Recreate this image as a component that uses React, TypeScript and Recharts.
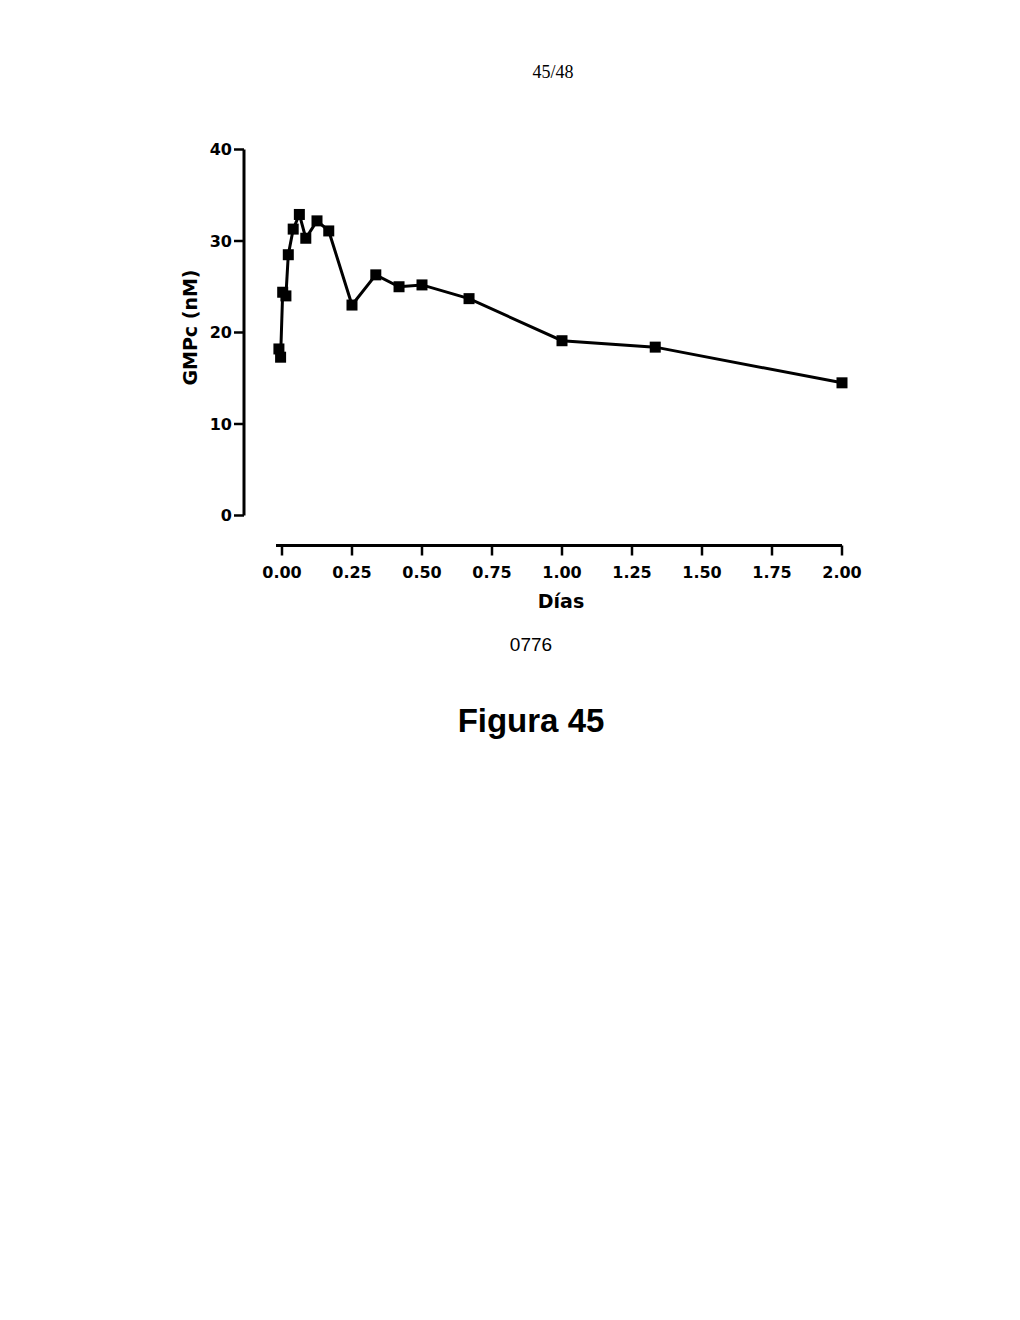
import { Label, Line, LineChart, ReferenceLine, XAxis, YAxis } from "recharts";

// Días después de la dosis y GMPc medido (nM)
const dias = [
  -0.011, -0.005, 0.0025, 0.014, 0.0225, 0.04, 0.062, 0.085, 0.125, 0.167, 0.25,
  0.335, 0.418, 0.5, 0.668, 1.0, 1.333, 2.0,
];
const gmpc = [
  18.2, 17.3, 24.4, 24.0, 28.5, 31.3, 32.9, 30.3, 32.2, 31.1, 23.0, 26.3, 25.0,
  25.2, 23.7, 19.1, 18.4, 14.5,
];
const xTicks = [0, 0.25, 0.5, 0.75, 1, 1.25, 1.5, 1.75, 2];
const yTicks = [0, 10, 20, 30, 40];

const X_MIN = -0.1357;
const X_LINE_START = -0.0214;
const X_MAX = 2;
const Y_MIN = -3.28;
const Y_MAX = 40;

const data = dias.map((d, i) => ({ dia: d, gmpc: gmpc[i] }));

const tickFont = {
  fill: "#000",
  fontSize: 16,
  fontWeight: 700,
  fontFamily: "DejaVu Sans, sans-serif",
};

const SquareDot = (props: any) => {
  const { cx, cy, index } = props;
  if (cx == null || cy == null) return null;
  return <rect key={index} x={cx - 5.5} y={cy - 5.5} width={11} height={11} fill="#000" />;
};

export default function App() {
  return (
    <div
      style={{
        position: "absolute",
        left: 0,
        top: 0,
        width: 1020,
        height: 1320,
        background: "#fff",
      }}
    >
      <div
        style={{
          position: "absolute",
          left: 553,
          top: 72,
          transform: "translate(-50%, -50%)",
          fontFamily: "Liberation Serif, serif",
          fontSize: 18,
          color: "#000",
        }}
      >
        45/48
      </div>

      <div style={{ position: "absolute", left: 0, top: 0 }}>
        <LineChart
          width={1020}
          height={700}
          data={data}
          margin={{ top: 149.5, right: 178, bottom: 84.5, left: 174 }}
        >
          <XAxis
            type="number"
            dataKey="dia"
            domain={[X_MIN, X_MAX]}
            ticks={xTicks}
            tickFormatter={(v: number) => v.toFixed(2)}
            axisLine={false}
            tickLine={{ stroke: "#000", strokeWidth: 2.5 }}
            tickSize={10}
            tickMargin={11}
            tick={tickFont}
            height={70}
            interval={0}
          >
            <Label
              content={({ viewBox }: any) => (
                <text
                  x={viewBox.x + viewBox.width / 2 + 18}
                  y={viewBox.y + 62}
                  textAnchor="middle"
                  fill="#000"
                  fontSize={19}
                  fontWeight={700}
                  fontFamily="DejaVu Sans, sans-serif"
                >
                  Días
                </text>
              )}
            />
          </XAxis>
          <YAxis
            type="number"
            domain={[Y_MIN, Y_MAX]}
            ticks={yTicks}
            axisLine={false}
            tickLine={{ stroke: "#000", strokeWidth: 2.5 }}
            tickSize={10}
            tickMargin={2}
            tick={tickFont}
            width={70}
            interval={0}
          >
            <Label
              content={({ viewBox }: any) => {
                const x = viewBox.x + 16;
                const y = viewBox.y + viewBox.height / 2 - 20;
                return (
                  <text
                    x={x}
                    y={y}
                    transform={`rotate(-90 ${x} ${y})`}
                    textAnchor="middle"
                    dominantBaseline="central"
                    fill="#000"
                    fontSize={19}
                    fontWeight={700}
                    fontFamily="DejaVu Sans, sans-serif"
                  >
                    GMPc (nM)
                  </text>
                );
              }}
            />
          </YAxis>
          <ReferenceLine
            segment={[
              { x: X_MIN, y: 0 },
              { x: X_MIN, y: Y_MAX },
            ]}
            stroke="#000"
            strokeWidth={3}
            ifOverflow="visible"
          />
          <ReferenceLine
            segment={[
              { x: X_LINE_START, y: Y_MIN },
              { x: X_MAX, y: Y_MIN },
            ]}
            stroke="#000"
            strokeWidth={3}
            ifOverflow="visible"
          />
          <Line
            type="linear"
            dataKey="gmpc"
            stroke="#000"
            strokeWidth={3}
            dot={SquareDot}
            activeDot={false}
            isAnimationActive={false}
          />
        </LineChart>
      </div>

      <div
        style={{
          position: "absolute",
          left: 531,
          top: 645,
          transform: "translate(-50%, -50%)",
          fontFamily: "Liberation Sans, Arial, sans-serif",
          fontSize: 19,
          color: "#000",
        }}
      >
        0776
      </div>
      <div
        style={{
          position: "absolute",
          left: 531,
          top: 721,
          transform: "translate(-50%, -50%)",
          fontFamily: "Liberation Sans, Arial, sans-serif",
          fontSize: 33,
          fontWeight: 700,
          color: "#000",
          whiteSpace: "nowrap",
        }}
      >
        Figura 45
      </div>
    </div>
  );
}
